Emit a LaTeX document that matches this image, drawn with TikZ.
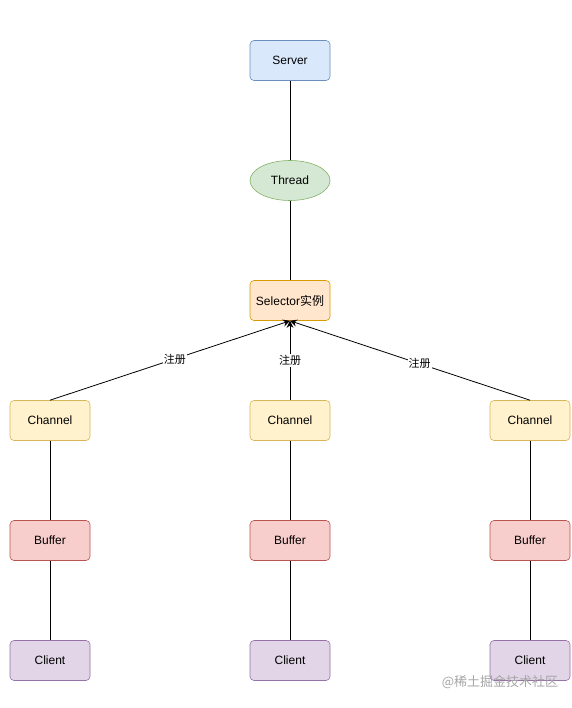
\documentclass[tikz,border=0pt]{standalone}
\usepackage{fontspec}
\setmainfont{Liberation Sans}
\newfontfamily\cjk{Noto Sans CJK SC}
\usetikzlibrary{arrows.meta}
\definecolor{bluef}{HTML}{DAE8FC}\definecolor{blued}{HTML}{6C8EBF}
\definecolor{greenf}{HTML}{D5E8D4}\definecolor{greend}{HTML}{82B366}
\definecolor{orangef}{HTML}{FFE6CC}\definecolor{oranged}{HTML}{D79B00}
\definecolor{yellowf}{HTML}{FFF2CC}\definecolor{yellowd}{HTML}{D6B656}
\definecolor{redf}{HTML}{F8CECC}\definecolor{redd}{HTML}{B85450}
\definecolor{purplef}{HTML}{E1D5E7}\definecolor{purpled}{HTML}{9673A6}
\tikzset{
  box/.style={draw, rounded corners=4pt, minimum width=80pt, minimum height=40pt, inner sep=0pt, font=\fontsize{12}{14}\selectfont, line width=0.6pt},
  ell/.style={draw, ellipse, minimum width=80pt, minimum height=40pt, inner sep=0pt, font=\fontsize{12}{14}\selectfont, line width=0.6pt},
  conn/.style={draw, line width=0.8pt},
  lbl/.style={fill=white, inner sep=1pt, font=\cjk\fontsize{11}{13}\selectfont},
}
\usetikzlibrary{shapes.geometric}
\begin{document}
\begin{tikzpicture}[x=1pt,y=-1pt]
\useasboundingbox (0,0) rectangle (571,708);
\node[box, fill=bluef, draw=blued] (server) at (290,60.5) {Server};
\node[ell, fill=greenf, draw=greend] (thread) at (290,180.5) {Thread};
\node[box, fill=orangef, draw=oranged] (sel) at (290,300.5) {Selector{\cjk 实例}};
\foreach \n/\x in {a/50,b/290,c/530}{
  \node[box, fill=yellowf, draw=yellowd] (ch\n) at (\x,420.5) {Channel};
  \node[box, fill=redf, draw=redd] (bu\n) at (\x,540.5) {Buffer};
  \node[box, fill=purplef, draw=purpled] (cl\n) at (\x,660.5) {Client};
  \draw[conn] (ch\n) -- (bu\n);
  \draw[conn] (bu\n) -- (cl\n);
}
\draw[conn] (server) -- (thread);
\draw[conn] (thread) -- (sel);
\draw[conn, -{Stealth[length=7pt,width=7pt]}] (cha.north) -- node[lbl, pos=0.52] {注册} (sel.south);
\draw[conn, -{Stealth[length=7pt,width=7pt]}] (chb.north) -- node[lbl, pos=0.5] {注册} (sel.south);
\draw[conn, -{Stealth[length=7pt,width=7pt]}] (chc.north) -- node[lbl, pos=0.46] {注册} (sel.south);
\node[font=\cjk\fontsize{13}{15}\selectfont, text=black!35] (wm) at (500,682) {@稀土掘金技术社区};
\end{tikzpicture}
\end{document}
